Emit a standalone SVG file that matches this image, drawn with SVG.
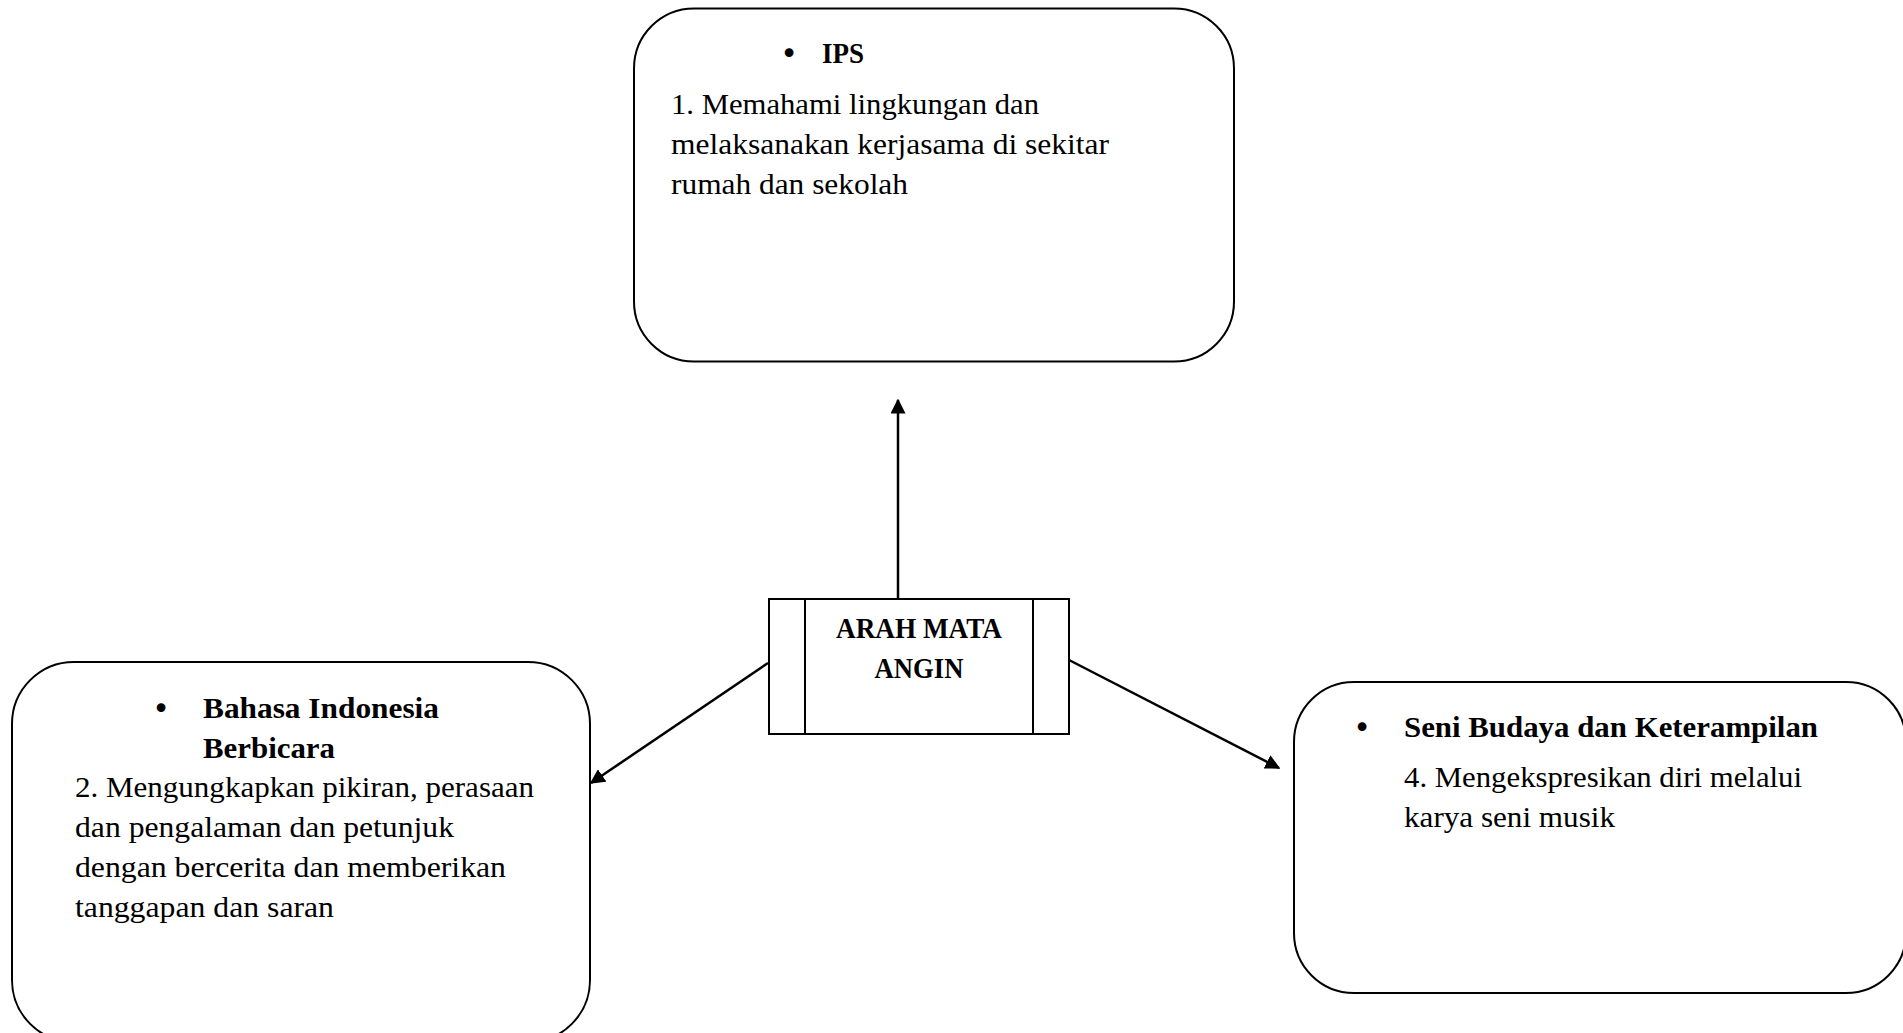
<svg xmlns="http://www.w3.org/2000/svg" width="1903" height="1033" viewBox="0 0 1903 1033">
<style>
.box{fill:#fff;stroke:#000;stroke-width:2}
.t{font-family:"Liberation Serif","DejaVu Serif",serif;font-size:30px;fill:#000}
.b{font-weight:bold}
.bul{font-family:"DejaVu Sans",sans-serif;font-size:30px;fill:#000}
.conn{stroke:#000;stroke-width:2.5;fill:none;marker-end:url(#arr)}
</style>
<defs>
<marker id="arr" viewBox="0 0 10 10" refX="9" refY="5" markerWidth="6" markerHeight="6" orient="auto" markerUnits="strokeWidth">
<path d="M0,0 L10,5 L0,10 z" fill="#000"/>
</marker>
</defs>
<rect width="1903" height="1033" fill="#fff"/>
<g id="node-ips">
<rect class="box" x="634" y="8.5" width="600" height="353" rx="60" ry="60"/>
<text class="bul" x="789" y="64" text-anchor="middle">•</text>
<text class="t b" x="822" y="63" textLength="42" lengthAdjust="spacingAndGlyphs">IPS</text>
<text class="t" x="671" y="114" textLength="368" lengthAdjust="spacingAndGlyphs">1. Memahami lingkungan dan</text>
<text class="t" x="671" y="154" textLength="438" lengthAdjust="spacingAndGlyphs">melaksanakan kerjasama di sekitar</text>
<text class="t" x="671" y="194" textLength="237" lengthAdjust="spacingAndGlyphs">rumah dan sekolah</text>
</g>
<g id="node-bahasa">
<rect class="box" x="12" y="662" width="578" height="380" rx="62" ry="62"/>
<text class="bul" x="161" y="719" text-anchor="middle">•</text>
<text class="t b" x="203" y="718" textLength="236" lengthAdjust="spacingAndGlyphs">Bahasa Indonesia</text>
<text class="t b" x="203" y="758" textLength="132" lengthAdjust="spacingAndGlyphs">Berbicara</text>
<text class="t" x="75" y="797" textLength="459" lengthAdjust="spacingAndGlyphs">2. Mengungkapkan pikiran, perasaan</text>
<text class="t" x="75" y="837" textLength="379" lengthAdjust="spacingAndGlyphs">dan pengalaman dan petunjuk</text>
<text class="t" x="75" y="877" textLength="431" lengthAdjust="spacingAndGlyphs">dengan bercerita dan memberikan</text>
<text class="t" x="75" y="917" textLength="259" lengthAdjust="spacingAndGlyphs">tanggapan dan saran</text>
</g>
<g id="node-seni">
<rect class="box" x="1294" y="682" width="612" height="311" rx="60" ry="60"/>
<text class="bul" x="1362" y="738" text-anchor="middle">•</text>
<text class="t b" x="1404" y="737" textLength="414" lengthAdjust="spacingAndGlyphs">Seni Budaya dan Keterampilan</text>
<text class="t" x="1404" y="787" textLength="398" lengthAdjust="spacingAndGlyphs">4. Mengekspresikan diri melalui</text>
<text class="t" x="1404" y="827" textLength="211" lengthAdjust="spacingAndGlyphs">karya seni musik</text>
</g>
<g id="node-center">
<rect class="box" x="769" y="599" width="300" height="135"/>
<line x1="805" y1="599" x2="805" y2="734" stroke="#000" stroke-width="2"/>
<line x1="1033" y1="599" x2="1033" y2="734" stroke="#000" stroke-width="2"/>
<text class="t b" x="919" y="638" text-anchor="middle" textLength="166" lengthAdjust="spacingAndGlyphs">ARAH MATA</text>
<text class="t b" x="919" y="678" text-anchor="middle" textLength="89" lengthAdjust="spacingAndGlyphs">ANGIN</text>
</g>
<g id="connectors">
<line class="conn" x1="898" y1="598" x2="898" y2="400"/>
<line class="conn" x1="768" y1="663" x2="591" y2="783"/>
<line class="conn" x1="1069" y1="660" x2="1279" y2="768"/>
</g>
</svg>
